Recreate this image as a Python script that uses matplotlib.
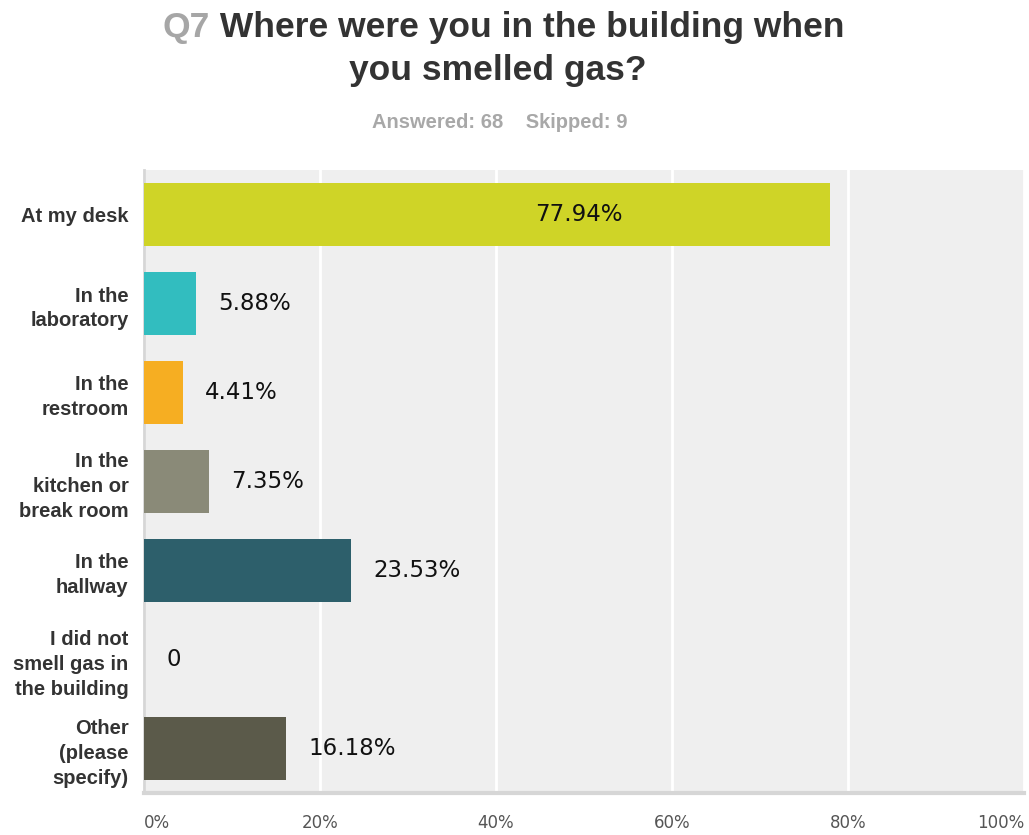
import matplotlib.pyplot as plt
import numpy as np

categories = ["At my desk", "In the\nlaboratory", "In the\nrestroom",
              "In the\nkitchen or\nbreak room", "In the\nhallway",
              "I did not\nsmell gas in\nthe building", "Other\n(please\nspecify)"]
values = [77.94, 5.88, 4.41, 7.35, 23.53, 0.0, 16.18]
colors = ["#cfd427", "#32bdbf", "#f6ae22", "#8a8a78", "#2d5f6b", "#efefef", "#5b5a4a"]
xticks = [0, 20, 40, 60, 80, 100]
xticklabels = ["0%", "20%", "40%", "60%", "80%", "100%"]

fig = plt.figure(figsize=(10.29, 8.35), dpi=100)
ax = fig.add_axes([144 / 1029, 42 / 835, 880 / 1029, 623 / 835])
ax.set_facecolor("#efefef")

y = np.arange(len(categories))
ax.barh(y, values, height=0.71, color=colors, linewidth=0, zorder=3)

for yi, v in zip(y, values):
    if v == 0:
        lab = "0"
    else:
        lab = "%.2f%%" % v
    if v > 50:
        ax.text(v - 23.5, yi, lab, ha="right", va="center", fontsize=16.5,
                color="#111111", zorder=4)
    else:
        ax.text(v + 2.5, yi, lab, ha="left", va="center", fontsize=16.5,
                color="#111111", zorder=4)

ax.set_xlim(0, 100)
ax.set_ylim(len(categories) - 0.5, -0.5)
ax.set_yticks(y)
ax.set_yticklabels(categories, fontsize=14.5, fontweight="bold", color="#333333",
                   family="Liberation Sans", linespacing=1.38)
ax.set_xticks(xticks)
ax.set_xticklabels(xticklabels, fontsize=12, color="#555555")
ax.tick_params(axis="y", length=0, pad=11)
ax.tick_params(axis="x", length=0, pad=15)
tl = ax.get_xticklabels()
tl[0].set_ha("left")
tl[-1].set_ha("right")

ax.grid(axis="x", color="white", linewidth=2, zorder=1)
ax.set_axisbelow(True)
for s in ["top", "right"]:
    ax.spines[s].set_visible(False)
ax.spines["left"].set_color("#d6d6d6")
ax.spines["left"].set_linewidth(2)
ax.spines["bottom"].set_color("#d6d6d6")
ax.spines["bottom"].set_linewidth(3)

# title
tfont = dict(family=["Liberation Sans Narrow", "Liberation Sans"], fontweight="bold", fontsize=25.5)
q = fig.text(163 / 1029, 1 - 37 / 835, "Q7", color="#a6a6a6", ha="left", va="baseline", **tfont)
ax.annotate(" Where were you in the building when", xycoords=q, xy=(1, 0), ha="left",
            va="bottom", color="#333333", annotation_clip=False, **tfont)
fig.text(498 / 1029, 1 - 80 / 835, "you smelled gas?", color="#333333", ha="center",
         va="baseline", **tfont)
fig.text(500 / 1029, 1 - 123 / 835, "Answered: 68    Skipped: 9", color="#a8a8a8",
         ha="center", va="center", family=["Liberation Sans Narrow", "Liberation Sans"],
         fontweight="bold", fontsize=14.5)

fig.savefig("out.png", dpi=100)
